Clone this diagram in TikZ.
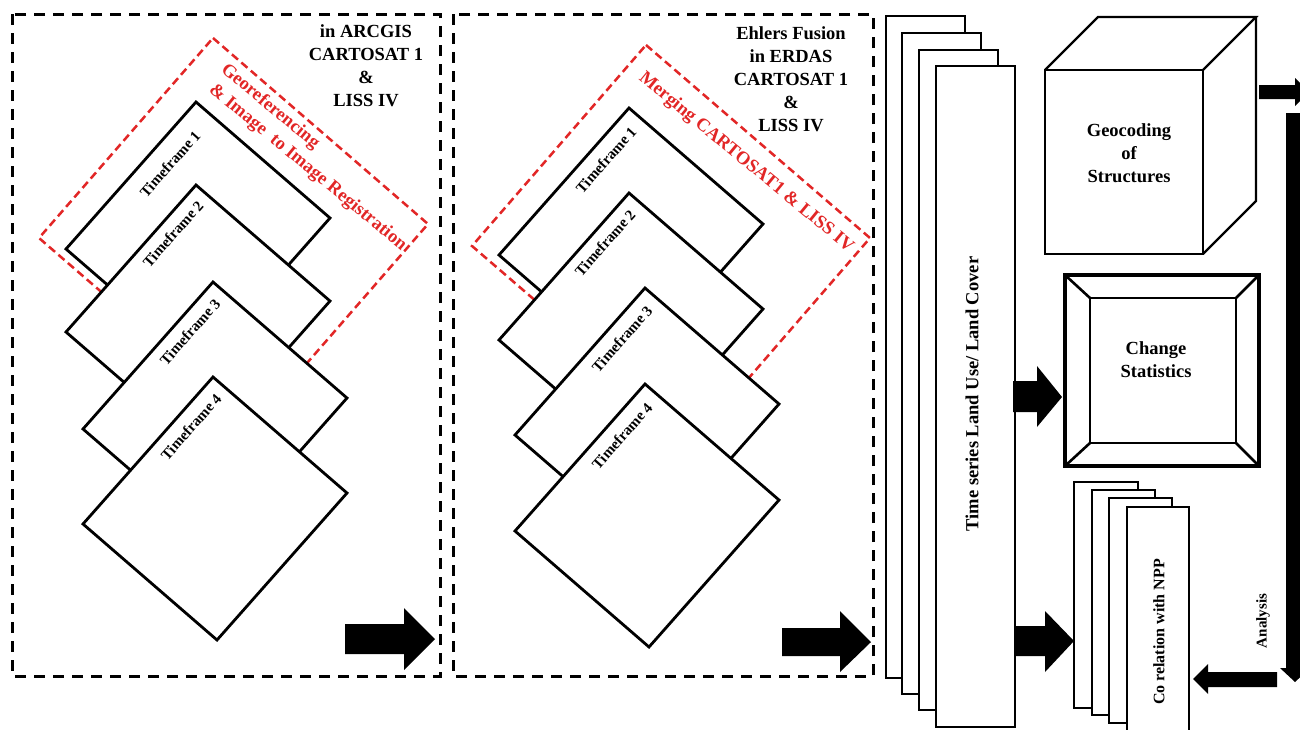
\documentclass[tikz,border=0pt]{standalone}
\usepackage{fontspec}
\setmainfont{Liberation Serif}
\definecolor{myred}{RGB}{226,38,38}
\tikzset{
  frame/.style={draw=black, line width=3pt, dash pattern=on 11pt off 8pt},
  redframe/.style={draw=myred, line width=2.5pt, dash pattern=on 8pt off 4.5pt},
  tile/.style={draw=black, fill=white, line width=2.8pt, line join=miter},
  sheet/.style={draw=black, fill=white, line width=2.2pt},
  cubeline/.style={draw=black, line width=2.2pt, line join=miter},
  tflabel/.style={font=\fontsize{15}{18}\selectfont\bfseries, rotate=48.5, inner sep=0pt},
  bigtxt/.style={font=\fontsize{18.5}{23}\selectfont\bfseries, align=center, inner sep=0pt},
  redtxt/.style={text=myred, font=\fontsize{18.5}{23}\selectfont\bfseries, inner sep=0pt, rotate=-39.5, anchor=west},
  blk/.style={fill=black, draw=none},
}
\newcommand\tileat[2]{\draw[tile] (#1,#2) -- ++(134,116) -- ++(-130,147) -- ++(-134,-116) -- cycle;}
\begin{document}
\begin{tikzpicture}[x=1pt,y=-1pt]
\path[use as bounding box, fill=white] (0,0) rectangle (1300,729);

% ---------- panel 1 ----------
\draw[frame] (12,14) rectangle (440,676);
\node[bigtxt] (t1) at (366,66) {in ARCGIS\\CARTOSAT 1\\\&\\LISS IV};
\draw[redframe] (213,38) -- ++(215,186) -- ++(-174,200) -- ++(-215,-186) -- cycle;
\node[redtxt] (r1a) at (223,68) {Georeferencing};
\node[redtxt] (r1b) at (211,88) {\& Image\ \ to Image Registration};
\tileat{196}{102}
\node[tflabel] (a1) at (170,164) {Timeframe 1};
\tileat{196}{185}
\node[tflabel] (a2) at (173,234) {Timeframe 2};
\tileat{213}{282}
\node[tflabel] (a3) at (190,332) {Timeframe 3};
\tileat{213}{377}
\node[tflabel] (a4) at (191,427) {Timeframe 4};
\fill[blk] (345,624)--(404,624)--(404,608)--(435,639)--(404,670)--(404,654)--(345,654)--cycle;

% ---------- panel 2 ----------
\draw[frame] (453,14) rectangle (873,676);
\node[bigtxt] (t2) at (791,79) {Ehlers Fusion\\in ERDAS\\CARTOSAT 1\\\&\\LISS IV};
\draw[redframe] (646,45) -- ++(224,193) -- ++(-174,201) -- ++(-224,-193) -- cycle;
\node[redtxt] (r2) at (641,76) {Merging CARTOSAT1 \& LISS IV};
\tileat{629}{108}
\node[tflabel] (b1) at (606,160) {Timeframe 1};
\tileat{629}{193}
\node[tflabel] (b2) at (605,243) {Timeframe 2};
\tileat{645}{288}
\node[tflabel] (b3) at (622,339) {Timeframe 3};
\tileat{645}{384}
\node[tflabel] (b4) at (622,436) {Timeframe 4};
\fill[blk] (782,628)--(840,628)--(840,611)--(871,642)--(840,672)--(840,656)--(782,656)--cycle;

% ---------- time series stack ----------
\draw[sheet] (886,16) rectangle (965,678);
\draw[sheet] (902,33) rectangle (981,694);
\draw[sheet] (919,50) rectangle (998,710);
\draw[sheet] (936,66) rectangle (1015,727);
\node[bigtxt, rotate=90] (ts) at (972,394) {Time series Land Use/ Land Cover};

% ---------- cube ----------
\draw[cubeline, fill=white] (1045,70) rectangle (1203,254);
\draw[cubeline] (1045,70) -- (1098,17) -- (1256,17) -- (1203,70);
\draw[cubeline] (1256,17) -- (1256,201) -- (1203,254);
\node[bigtxt] (geo) at (1129,153) {Geocoding\\of\\Structures};

% ---------- change statistics ----------
\draw[draw=black, line width=3.5pt] (1065,275) rectangle (1259,466);
\draw[draw=black, line width=2.6pt] (1090,298) rectangle (1236,443);
\draw[line width=2.6pt] (1065,275) -- (1090,298);
\draw[line width=2.6pt] (1259,275) -- (1236,298);
\draw[line width=2.6pt] (1065,466) -- (1090,443);
\draw[line width=2.6pt] (1259,466) -- (1236,443);
\node[bigtxt] (cs) at (1156,360) {Change\\Statistics};
\fill[blk] (1013,381)--(1037,381)--(1037,366)--(1062,397)--(1037,427)--(1037,412)--(1013,412)--cycle;

% ---------- correlation stack ----------
\draw[sheet] (1074,482) rectangle (1138,708);
\draw[sheet] (1092,490) rectangle (1155,715);
\draw[sheet] (1109,498) rectangle (1172,723);
\draw[sheet] (1127,507) rectangle (1189,735);
\node[font=\fontsize{16}{19}\selectfont\bfseries, rotate=90, inner sep=0pt] (npp) at (1159,632) {Co relation with NPP};
\fill[blk] (1014,626)--(1045,626)--(1045,611)--(1074,641)--(1045,672)--(1045,656)--(1014,656)--cycle;

% ---------- right side ----------
\fill[blk] (1259,85)--(1295,85)--(1295,78)--(1309,92)--(1295,106)--(1295,99)--(1259,99)--cycle;
\fill[blk] (1286,113)--(1304,113)--(1304,668)--(1310,668)--(1295,682)--(1280,668)--(1286,668)--cycle;
\node[font=\fontsize{15}{18}\selectfont\bfseries, rotate=90, inner sep=0pt] (an) at (1263,621) {Analysis};
\fill[blk] (1277,672)--(1208,672)--(1208,664)--(1193,679)--(1208,694)--(1208,687)--(1277,687)--cycle;
\end{tikzpicture}
\end{document}
